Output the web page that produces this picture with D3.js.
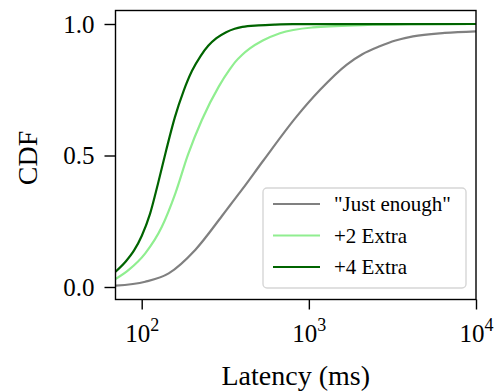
<!DOCTYPE html>
<html>
<head>
<meta charset="utf-8">
<script src="https://cdn.jsdelivr.net/npm/d3@7"></script>
<style>
body { margin: 0; background: #fff; }
text { font-family: "Liberation Serif", "DejaVu Serif", serif; }
</style>
</head>
<body>
<div id="chart"></div>
<script>
// data: latency (ms) vs cdf
var seriesNames = ["\"Just enough\"", "+2 Extra", "+4 Extra"];
var seriesColors = ["#808080", "#90ee90", "#006400"];

var justLat = [69.7, 105, 145, 209, 302, 337, 398, 533, 844, 1164, 1680, 2089, 2655, 3300, 4198, 6500, 10000];
var justCdf = [0.005, 0.02, 0.052, 0.141, 0.27, 0.31, 0.37, 0.48, 0.648, 0.749, 0.845, 0.885, 0.915, 0.937, 0.953, 0.966, 0.972];

var extra2Lat = [69.7, 83.6, 105, 132, 159, 189, 229, 289, 337, 363, 398, 444, 530, 671, 1057, 2104, 4000, 10000];
var extra2Cdf = [0.03, 0.065, 0.128, 0.229, 0.356, 0.502, 0.635, 0.762, 0.828, 0.856, 0.882, 0.907, 0.937, 0.965, 0.987, 0.996, 0.999, 1.0];

var extra4Lat = [69.7, 80, 90, 100, 112, 125, 140, 158, 178, 200, 225, 250, 280, 320, 360, 400, 500, 630, 800, 10000];
var extra4Cdf = [0.058, 0.096, 0.139, 0.194, 0.277, 0.392, 0.519, 0.646, 0.745, 0.822, 0.878, 0.917, 0.946, 0.969, 0.982, 0.989, 0.995, 0.998, 0.9995, 1.0];

var xTicks = [100, 1000, 10000];
var yTicks = [0, 0.5, 1.0];

var W = 503, H = 392;
var m = {left: 115.5, right: 27, top: 10.5, bottom: 92.5};

var svg = d3.select("#chart").append("svg")
	.attr("width", W)
	.attr("height", H);

var x = d3.scaleLog().domain([69.7, 10000]).range([m.left, W - m.right]);
var y = d3.scaleLinear().domain([0, 1]).range([287, 24]);

var plot = svg.append("g");

var series = [
	{lat: justLat, cdf: justCdf},
	{lat: extra2Lat, cdf: extra2Cdf},
	{lat: extra4Lat, cdf: extra4Cdf}
];

var line = d3.line()
	.x(function(d) { return x(d[0]); })
	.y(function(d) { return y(d[1]); })
	.curve(d3.curveMonotoneX);

svg.append("clipPath").attr("id", "clip")
	.append("rect")
	.attr("x", m.left).attr("y", m.top)
	.attr("width", W - m.right - m.left).attr("height", H - m.bottom - m.top);

series.forEach(function(s, i) {
	var pts = s.lat.map(function(v, j) { return [v, s.cdf[j]]; });
	plot.append("path")
		.attr("d", line(pts))
		.attr("fill", "none")
		.attr("stroke", seriesColors[i])
		.attr("stroke-width", 2.2)
		.attr("clip-path", "url(#clip)");
});

// frame
svg.append("rect")
	.attr("x", m.left).attr("y", m.top)
	.attr("width", W - m.right - m.left).attr("height", H - m.bottom - m.top)
	.attr("fill", "none")
	.attr("stroke", "#000")
	.attr("stroke-width", 1.4);

// x axis
var xAxis = d3.axisBottom(x)
	.tickValues(xTicks)
	.tickSize(10)
	.tickFormat("");
var gx = svg.append("g")
	.attr("transform", "translate(0," + (H - m.bottom) + ")")
	.call(xAxis);
gx.select(".domain").remove();
gx.selectAll(".tick line").attr("stroke-width", 1.4);

var xl = gx.selectAll(".tick").append("text")
	.attr("y", 42)
	.attr("fill", "#000")
	.attr("text-anchor", "middle")
	.style("font-size", "25px");
xl.append("tspan").text("10");
xl.append("tspan")
	.attr("dy", -11)
	.style("font-size", "18px")
	.text(function(d) { return Math.round(Math.log10(d)); });

// y axis
var yAxis = d3.axisLeft(y)
	.tickValues(yTicks)
	.tickSize(11)
	.tickPadding(10)
	.tickFormat(d3.format(".1f"));
var gy = svg.append("g")
	.attr("transform", "translate(" + m.left + ",0)")
	.call(yAxis);
gy.select(".domain").remove();
gy.selectAll(".tick line").attr("stroke-width", 1.4);
gy.selectAll(".tick text")
	.attr("fill", "#000")
	.style("font-size", "25px")
	.style("font-family", "\"Liberation Serif\", serif");

// axis labels
svg.append("text")
	.attr("x", (m.left + W - m.right) / 2)
	.attr("y", 385)
	.attr("text-anchor", "middle")
	.style("font-size", "28px")
	.text("Latency (ms)");

svg.append("text")
	.attr("transform", "translate(37,158) rotate(-90)")
	.attr("text-anchor", "middle")
	.style("font-size", "28px")
	.text("CDF");

// legend
var lg = svg.append("g").attr("transform", "translate(263,188)");
lg.append("rect")
	.attr("width", 203).attr("height", 100)
	.attr("rx", 4)
	.attr("fill", "#fff")
	.attr("fill-opacity", 0.85)
	.attr("stroke", "#d6d6d6")
	.attr("stroke-width", 1.4);
seriesNames.forEach(function(name, i) {
	var yy = 16 + i * 31.5;
	lg.append("line")
		.attr("x1", 10).attr("x2", 57)
		.attr("y1", yy).attr("y2", yy)
		.attr("stroke", seriesColors[i])
		.attr("stroke-width", 2.2);
	lg.append("text")
		.attr("x", 71).attr("y", yy + 7)
		.style("font-size", "21px")
		.text(name);
});
</script>
</body>
</html>
